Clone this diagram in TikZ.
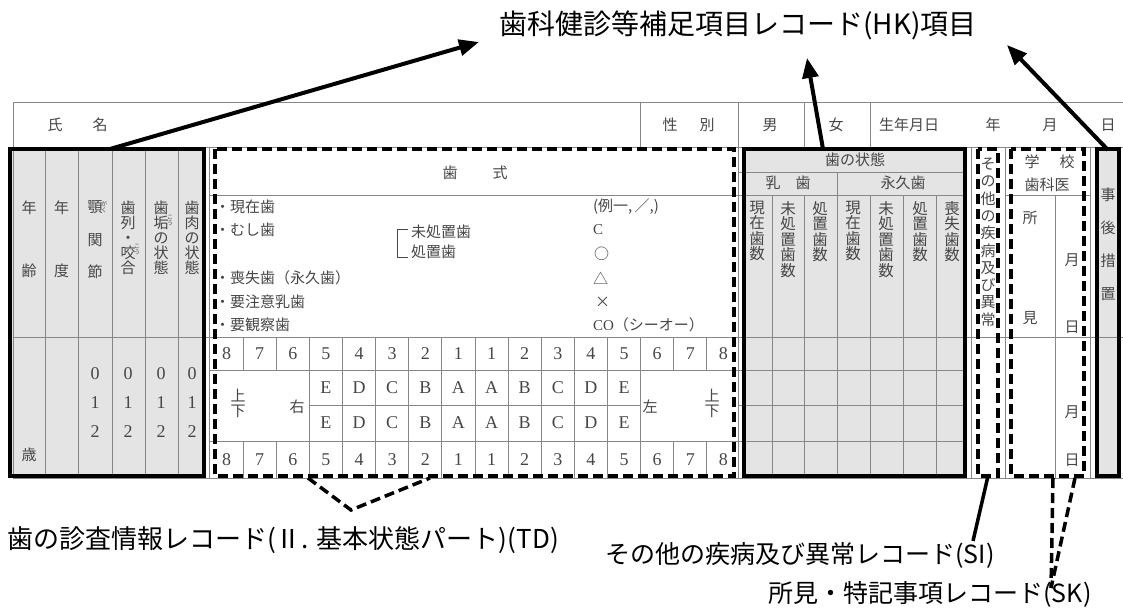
\documentclass[tikz,border=0pt]{standalone}
\usepackage{fontspec}
\setmainfont{Noto Sans CJK JP}
\newfontfamily\numfont{Liberation Serif}
\usetikzlibrary{arrows.meta}
\definecolor{boxgray}{RGB}{228,228,228}
\definecolor{cellline}{RGB}{135,135,135}
\definecolor{celltext}{RGB}{70,70,70}

\begin{document}
\begin{tikzpicture}[
		x=1pt,y=-1pt,
		every node/.style={inner sep=0pt,outer sep=0pt},
		cell/.style={draw=cellline,line width=1pt},
		heavybox/.style={draw=black,line width=4pt},
		dashbox/.style={draw=black,line width=3.5pt,dash pattern=on 10pt off 5pt},
		dashlink/.style={draw=black,line width=3.5pt,dash pattern=on 10pt off 5pt},
		hkarrow/.style={line width=4pt,-{Triangle[length=20pt,width=16pt]}},
		tab/.style={text=celltext,font=\fontsize{15}{15}\selectfont},
		vtab/.style={tab,align=center,anchor=north},
		ruby/.style={text=celltext,font=\fontsize{6}{6}\selectfont,align=center},
		num/.style={text=celltext,font=\numfont\fontsize{18}{18}\selectfont},
		caption/.style={font=\fontsize{25}{25}\selectfont}
		]
		\useasboundingbox (0,0) rectangle (1123,610);
		\node[fill=boxgray,minimum width=194,minimum height=327,anchor=north west] (kihon) at (10,149) {};
		\node[minimum width=519,minimum height=327,anchor=north west] (td) at (215,149) {};
		\node[fill=boxgray,minimum width=221,minimum height=327,anchor=north west] (joutai) at (744,149) {};
		\node[minimum width=20,minimum height=327,anchor=north west] (si) at (978,149) {};
		\node[minimum width=73,minimum height=327,anchor=north west] (sk) at (1011,149) {};
		\node[fill=boxgray,minimum width=22,minimum height=327,anchor=north west] (jigo) at (1097,149) {};

		\draw[cell] (13,102) -- (1123,102) (13,147) -- (1123,147) (13,337) -- (1123,337) (13,478) -- (1123,478);
		\draw[cell] (13,102) -- (13,478) (209,147) -- (209,478) (738,102) -- (738,478);
		\foreach \x in {640,804,870} \draw[cell] (\x,102) -- (\x,147);
		\foreach \x in {971,1005,1090} \draw[cell] (\x,147) -- (\x,478);
		\foreach \x in {45,78,112,145,178} \draw[cell] (\x,147) -- (\x,478);
		\draw[cell] (209,195) -- (738,195) (738,172) -- (967,172) (738,195) -- (967,195) (1005,195) -- (1090,195);
		\draw[cell] (209,370) -- (967,370) (209,441) -- (967,441) (309.4,405) -- (640.6,405) (738,405) -- (967,405);
		\foreach \i in {1,2,14,15} \draw[cell] (210+33.125*\i,337) -- (210+33.125*\i,370) (210+33.125*\i,441) -- (210+33.125*\i,478);
		\foreach \i in {3,...,13} \draw[cell] (210+33.125*\i,337) -- (210+33.125*\i,478);
		\foreach \x in {772,804,837,870,903,936} \draw[cell] (\x,195) -- (\x,478);
		\draw[cell] (837,172) -- (837,195) (1055,195) -- (1055,478);

		\foreach \t/\x [count=\i] in {氏/55,名/100,性/670,別/707,男/770,女/836,生年月日/909,年/993,月/1050,日/1108}
			\node[tab] (head\i) at (\x,125) {\t};

		\node[vtab] (nenrei) at (29,201) {年\\[48pt]齢};
		\node[vtab] (nendo) at (61.5,201) {年\\[48pt]度};
		\node[vtab] (gaku) at (95,201) {顎\\[17.5pt]関\\[17.5pt]節};
		\node[vtab] (shiretsu) at (128,201) {歯\\列\\・\\咬\\合};
		\node[vtab] (shiko) at (161,201) {歯\\垢\\の\\状\\態};
		\node[vtab] (shiniku) at (192,201) {歯\\肉\\の\\状\\態};
		\node[ruby] (rgaku) at (104,207) {が\\く};
		\node[ruby] (rkou1) at (137,250) {こ\\う};
		\node[ruby] (rkou2) at (170,221) {こ\\う};
		\foreach \x [count=\j] in {95,128,161,192}
			\foreach \v/\y in {0/374,1/403,2/432}
				\node[num] (sc\j\v) at (\x,\y) {\v};
		\node[tab] (sai) at (29,455) {歳};

		\node[tab] (ha) at (450,173) {歯};
		\node[tab] (shiki) at (500,173) {式};
		\node[tab,anchor=west] (genzai) at (215,207) {・現在歯};
		\node[tab,anchor=west] (mushiba) at (215,230) {・むし歯};
		\node[tab,anchor=west] (soshitsu) at (215,278) {・喪失歯（永久歯）};
		\node[tab,anchor=west] (chui) at (215,302) {・要注意乳歯};
		\node[tab,anchor=west] (kansatsu) at (215,325) {・要観察歯};
		\draw[celltext,line width=0.8pt] (408,229) -- (397,229) -- (397,257) -- (408,257);
		\node[tab,anchor=west] (mishochi) at (411,232) {未処置歯};
		\node[tab,anchor=west] (shochi) at (411,252) {処置歯};
		\node[tab,anchor=west] (rei) at (593,207) {(例一,\,／,)};
		\node[tab,anchor=west] (mC) at (593,230) {\numfont C};
		\node[tab,anchor=west] (mO) at (594,254) {○};
		\node[tab,anchor=west] (mT) at (593,278) {△};
		\node[tab,anchor=west] (mX) at (595,302) {×};
		\node[tab,anchor=west] (mCO) at (593,325) {{\numfont CO}（シーオー）};

		\foreach \n [count=\i from 0] in {8,7,6,5,4,3,2,1,1,2,3,4,5,6,7,8} {
			\node[num] (up\i) at (226.56+33.125*\i,354) {\n};
			\node[num] (lo\i) at (226.56+33.125*\i,460) {\n};
		}
		\foreach \c [count=\i from 3] in {E,D,C,B,A,A,B,C,D,E} {
			\node[num] (nu\i) at (226.56+33.125*\i,388) {\c};
			\node[num] (nl\i) at (226.56+33.125*\i,423) {\c};
		}
		\node[tab] (ueR) at (238,396) {上};
		\node[tab] (shitaR) at (238,411) {下};
		\node[tab] (migi) at (297,407) {右};
		\node[tab] (hidari) at (650,407) {左};
		\node[tab] (ueL) at (712,396) {上};
		\node[tab] (shitaL) at (712,411) {下};

		\node[tab] (jhead) at (855,160) {歯の状態};
		\node[tab] (nyushi) at (788,183) {乳　歯};
		\node[tab] (eikyu) at (903,183) {永久歯};
		\foreach \t/\x [count=\i] in {{現\\在\\歯\\数}/757,{未\\処\\置\\歯\\数}/788,{処\\置\\歯\\数}/820,{現\\在\\歯\\数}/853,{未\\処\\置\\歯\\数}/886,{処\\置\\歯\\数}/920,{喪\\失\\歯\\数}/952}
			\node[vtab,font=\fontsize{15.5}{15.5}\selectfont] (col\i) at (\x,201) {\t};

		\node[vtab,font=\fontsize{15}{17.3}\selectfont] (sonota) at (988,158) {そ\\の\\他\\の\\疾\\病\\及\\び\\異\\常};
		\node[tab] (gak) at (1032,162) {学};
		\node[tab] (kou) at (1067,162) {校};
		\node[tab] (shikai) at (1047,185) {歯科医};
		\node[tab] (sho) at (1030,218) {所};
		\node[tab] (ken) at (1030,318) {見};
		\node[tab] (tsuki1) at (1072,260) {月};
		\node[tab] (hi1) at (1072,327) {日};
		\node[tab] (tsuki2) at (1072,412) {月};
		\node[tab] (hi2) at (1072,460) {日};
		\node[vtab,font=\fontsize{15}{33}\selectfont] (sochi) at (1108,188) {事\\後\\措\\置};

		\draw[heavybox] (kihon.north west) rectangle (kihon.south east);
		\draw[dashbox] (td.north west) rectangle (td.south east);
		\draw[heavybox] (joutai.north west) rectangle (joutai.south east);
		\draw[dashbox] (si.north west) rectangle (si.south east);
		\draw[dashbox] (sk.north west) rectangle (sk.south east);
		\draw[heavybox] (jigo.north west) rectangle (jigo.south east);

		\node[font=\fontsize{28}{28}\selectfont] (hk) at (738,25) {歯科健診等補足項目レコード(HK)項目};
		\coordinate (k1) at (110,149);
		\coordinate (k2) at (823,149);
		\coordinate (k3) at (1108,150);
		\coordinate (tip1) at (479,42);
		\coordinate (tip2) at (807,58);
		\coordinate (tip3) at (1007,45);
		\draw[hkarrow] (k1) -- (tip1);
		\draw[hkarrow] (k2) -- (tip2);
		\draw[hkarrow] (k3) -- (tip3);

		\node[caption,font=\fontsize{26}{26}\selectfont] (tdlbl) at (283,540) {歯の診査情報レコード(Ⅱ. 基本状態パート)(TD)};
		\node[caption] (silbl) at (800,555) {その他の疾病及び異常レコード(SI)};
		\node[caption] (sklbl) at (930,594) {所見・特記事項レコード(SK)};
		\coordinate (tdl) at (308,478);
		\coordinate (tdv) at (351,510);
		\coordinate (tdr) at (430,478);
		\coordinate (sie) at (973,541);
		\coordinate (ska) at (1053,478);
		\coordinate (skb) at (1075,478);
		\coordinate (ske) at (1051,588);
		\draw[dashlink] (tdl) -- (tdv) -- (tdr);
		\draw[line width=3.5pt] (si.south) -- (sie);
		\draw[dashlink] (ska) -- (ske);
		\draw[dashlink] (skb) -- (ske);
\end{tikzpicture}
\end{document}
